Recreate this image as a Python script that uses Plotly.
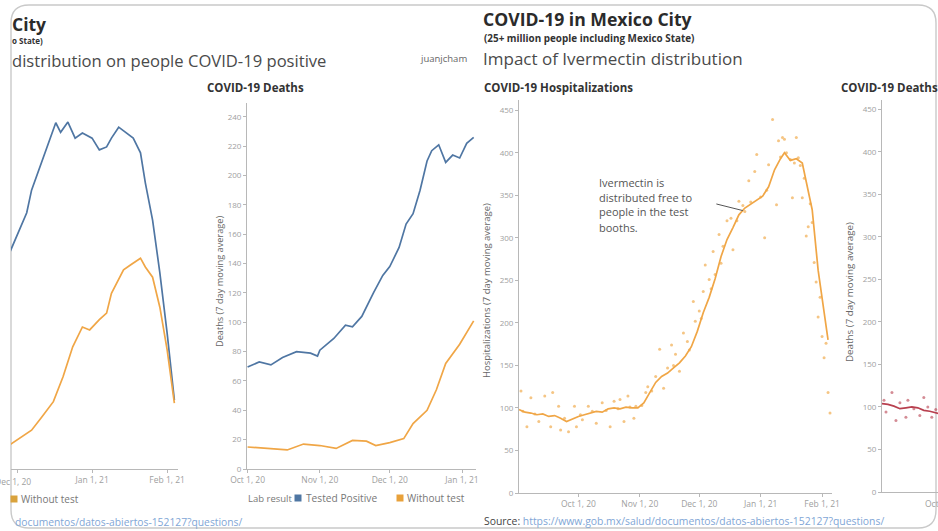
import plotly.graph_objects as go

W, H = 938, 531

# ---------------- DATA ----------------
# Panel A (left dashboard, cut-off hospitalizations chart)
a_pos_dates = ["2020-11-28", "2020-12-02", "2020-12-05", "2020-12-07", "2020-12-11", "2020-12-14",
               "2020-12-17", "2020-12-19", "2020-12-22", "2020-12-25", "2020-12-28", "2021-01-01",
               "2021-01-04", "2021-01-07", "2021-01-09", "2021-01-12", "2021-01-15", "2021-01-18",
               "2021-01-21", "2021-01-23", "2021-01-26", "2021-01-29", "2021-02-01", "2021-02-04"]
a_pos_vals = [296, 326, 350, 381, 418, 447, 473, 460, 474, 452, 459, 452,
              436, 440, 452, 467, 459, 452, 432, 391, 340, 268, 186, 94]
a_wt_dates = ["2020-11-28", "2020-12-03", "2020-12-07", "2020-12-11", "2020-12-16", "2020-12-20",
              "2020-12-24", "2020-12-28", "2020-12-31", "2021-01-04", "2021-01-07", "2021-01-09",
              "2021-01-14", "2021-01-17", "2021-01-21", "2021-01-23", "2021-01-26", "2021-01-29",
              "2021-02-01", "2021-02-04"]
a_wt_vals = [33, 44, 53, 70, 92, 126, 167, 194, 190, 204, 213, 240,
             272, 279, 288, 276, 262, 221, 163, 90]
a_xticks = ["2020-12-01", "2021-01-01", "2021-02-01"]

# Panel B (COVID-19 Deaths, left dashboard)
b_pos_dates = ["2020-10-01", "2020-10-06", "2020-10-11", "2020-10-16", "2020-10-22", "2020-10-28",
               "2020-10-31", "2020-11-01", "2020-11-07", "2020-11-12", "2020-11-15", "2020-11-19",
               "2020-11-24", "2020-11-28", "2020-12-01", "2020-12-05", "2020-12-08", "2020-12-11",
               "2020-12-14", "2020-12-17", "2020-12-19", "2020-12-22", "2020-12-25", "2020-12-28",
               "2020-12-31", "2021-01-03", "2021-01-06"]
b_pos_vals = [69.5, 73, 71, 76, 80, 79, 77, 81, 89, 98, 97, 104, 120, 132, 138, 151, 167, 174,
              190, 210, 217, 221, 209, 214, 212, 222, 226]
b_wt_dates = ["2020-10-01", "2020-10-11", "2020-10-18", "2020-10-25", "2020-11-01", "2020-11-08",
              "2020-11-15", "2020-11-21", "2020-11-25", "2020-12-01", "2020-12-07", "2020-12-11",
              "2020-12-17", "2020-12-21", "2020-12-25", "2020-12-31", "2021-01-06"]
b_wt_vals = [15, 14, 13, 17, 16, 14, 19.5, 19, 16, 18, 20.7, 31, 40, 54, 72, 85, 101]
b_xticks = ["2020-10-01", "2020-11-01", "2020-12-01", "2021-01-01"]
b_yticks = list(range(0, 241, 20))

# Panel C (COVID-19 Hospitalizations, right dashboard)
c_avg_dates = ["2020-09-01", "2020-09-04", "2020-09-07", "2020-09-10", "2020-09-13", "2020-09-16",
               "2020-09-19", "2020-09-22", "2020-09-25", "2020-09-28", "2020-10-01", "2020-10-04",
               "2020-10-07", "2020-10-10", "2020-10-13", "2020-10-16", "2020-10-19", "2020-10-22",
               "2020-10-25", "2020-10-28", "2020-10-31", "2020-11-03", "2020-11-06", "2020-11-09",
               "2020-11-12", "2020-11-15", "2020-11-18", "2020-11-21", "2020-11-24", "2020-11-27",
               "2020-11-30", "2020-12-03", "2020-12-06", "2020-12-09", "2020-12-12", "2020-12-15",
               "2020-12-18", "2020-12-21", "2020-12-24", "2020-12-27", "2020-12-30", "2021-01-02",
               "2021-01-05", "2021-01-08", "2021-01-11", "2021-01-13", "2021-01-16", "2021-01-19",
               "2021-01-22", "2021-01-24", "2021-01-27", "2021-01-30", "2021-02-02", "2021-02-04"]
c_avg_vals = [98, 95, 94, 92, 93, 90, 91, 88, 84, 87, 90, 92, 94, 96, 95, 99, 100, 99, 101, 100,
              100, 106, 118, 130, 137, 141, 147, 153, 161, 172, 190, 212, 230, 252, 278, 298,
              312, 327, 335, 340, 345, 349, 360, 380, 393, 400, 391, 393, 388, 365, 333, 262,
              215, 180]
c_day_dates = ["2020-09-02", "2020-09-03", "2020-09-05", "2020-09-07", "2020-09-09", "2020-09-11",
               "2020-09-14", "2020-09-17", "2020-09-18", "2020-09-21", "2020-09-22", "2020-09-24",
               "2020-09-26", "2020-09-29", "2020-09-30", "2020-10-02", "2020-10-03", "2020-10-06",
               "2020-10-08", "2020-10-10", "2020-10-13", "2020-10-15", "2020-10-17", "2020-10-19",
               "2020-10-21", "2020-10-22", "2020-10-24", "2020-10-26", "2020-10-27", "2020-10-29",
               "2020-10-30", "2020-11-02", "2020-11-04", "2020-11-05", "2020-11-07", "2020-11-09",
               "2020-11-11", "2020-11-13", "2020-11-15", "2020-11-17", "2020-11-18", "2020-11-19",
               "2020-11-21", "2020-11-23", "2020-11-25", "2020-11-26", "2020-11-28", "2020-11-29",
               "2020-12-01", "2020-12-02", "2020-12-03", "2020-12-04", "2020-12-06", "2020-12-07",
               "2020-12-08", "2020-12-09", "2020-12-11", "2020-12-12", "2020-12-13", "2020-12-15",
               "2020-12-17", "2020-12-18", "2020-12-20", "2020-12-21", "2020-12-23", "2020-12-24",
               "2020-12-26", "2020-12-27", "2020-12-29", "2020-12-30", "2021-01-01", "2021-01-03",
               "2021-01-04", "2021-01-05", "2021-01-07", "2021-01-09", "2021-01-10", "2021-01-11",
               "2021-01-12", "2021-01-13", "2021-01-14", "2021-01-16", "2021-01-17", "2021-01-18",
               "2021-01-19", "2021-01-20", "2021-01-21", "2021-01-22", "2021-01-23", "2021-01-24",
               "2021-01-25", "2021-01-26", "2021-01-27", "2021-01-28", "2021-01-29", "2021-01-30",
               "2021-01-31", "2021-02-01", "2021-02-02", "2021-02-03", "2021-02-04", "2021-02-05"]
c_day_vals = [120, 96, 78, 112, 93, 84, 114, 78, 118, 102, 74, 88, 72, 102, 78, 92, 86, 102,
              96, 82, 106, 97, 78, 108, 99, 110, 84, 114, 101, 88, 102, 103, 118, 125, 120, 137,
              169, 123, 147, 174, 150, 163, 143, 188, 178, 168, 225, 202, 214, 205, 237, 268,
              251, 240, 284, 257, 304, 270, 290, 320, 323, 286, 320, 343, 338, 331, 367, 342,
              378, 398, 348, 300, 356, 386, 439, 339, 414, 395, 418, 416, 400, 392, 347, 388,
              418, 394, 385, 347, 370, 302, 313, 340, 318, 271, 248, 207, 230, 184, 159, 176,
              118, 94]
c_xticks = ["2020-10-01", "2020-11-01", "2020-12-01", "2021-01-01", "2021-02-01"]
c_yticks = list(range(0, 451, 50))

# Panel D (COVID-19 Deaths, right dashboard, cut-off)
d_avg_dates = ["2020-09-01", "2020-09-04", "2020-09-07", "2020-09-10", "2020-09-13", "2020-09-16",
               "2020-09-19", "2020-09-22", "2020-09-25", "2020-09-28", "2020-09-30"]
d_avg_vals = [104, 103, 101, 98, 99, 100, 99, 96, 95, 93, 92]
d_day_dates = ["2020-09-02", "2020-09-03", "2020-09-06", "2020-09-08", "2020-09-10", "2020-09-13",
               "2020-09-14", "2020-09-17", "2020-09-20", "2020-09-22", "2020-09-24", "2020-09-26",
               "2020-09-28"]
d_day_vals = [108, 94, 117, 84, 105, 88, 108, 98, 90, 111, 100, 88, 97]
d_yticks = list(range(0, 451, 50))

# ---------------- STYLE ----------------
BLUE = "#4f76a3"
ORANGE = "#f0a646"
ORANGE_DOT = "#f3bb6e"
RED = "#b8404f"
AX = "#b8b8b8"
TICKC = "#a0a0a0"
FONT = "Open Sans"


def X(px):
    return px / W


def Y(py):
    return 1 - py / H


def dom_x(a, b):
    return [X(a), X(b)]


def dom_y(top, bottom):
    return [Y(bottom), Y(top)]


fig = go.Figure()

fig.add_trace(go.Scatter(x=a_pos_dates, y=a_pos_vals, mode="lines", line=dict(color=BLUE, width=1.7),
                         xaxis="x", yaxis="y", showlegend=False))
fig.add_trace(go.Scatter(x=a_wt_dates, y=a_wt_vals, mode="lines", line=dict(color=ORANGE, width=1.7),
                         xaxis="x", yaxis="y", showlegend=False))
fig.add_trace(go.Scatter(x=b_pos_dates, y=b_pos_vals, mode="lines", line=dict(color=BLUE, width=1.7),
                         xaxis="x2", yaxis="y2", showlegend=False))
fig.add_trace(go.Scatter(x=b_wt_dates, y=b_wt_vals, mode="lines", line=dict(color=ORANGE, width=1.7),
                         xaxis="x2", yaxis="y2", showlegend=False))
fig.add_trace(go.Scatter(x=c_day_dates, y=c_day_vals, mode="markers",
                         marker=dict(color=ORANGE_DOT, size=3, opacity=0.85),
                         xaxis="x3", yaxis="y3", showlegend=False))
fig.add_trace(go.Scatter(x=c_avg_dates, y=c_avg_vals, mode="lines", line=dict(color=ORANGE, width=1.7),
                         xaxis="x3", yaxis="y3", showlegend=False))
fig.add_trace(go.Scatter(x=d_day_dates, y=d_day_vals, mode="markers",
                         marker=dict(color=RED, size=3, opacity=0.6),
                         xaxis="x4", yaxis="y4", showlegend=False))
fig.add_trace(go.Scatter(x=d_avg_dates, y=d_avg_vals, mode="lines", line=dict(color=RED, width=1.7),
                         xaxis="x4", yaxis="y4", showlegend=False))

base_x = dict(type="date", showline=True, linecolor=AX, linewidth=1, ticks="outside", ticklen=3,
              tickcolor=AX, tickfont=dict(family=FONT, size=8.5, color=TICKC), showgrid=False,
              zeroline=False, automargin=False, tickformat="%b %-d, %y")
base_y = dict(showline=True, linecolor=AX, linewidth=1, ticks="outside", ticklen=3, tickcolor=AX,
              tickfont=dict(family=FONT, size=8, color=TICKC), showgrid=False, zeroline=False,
              automargin=False)

fig.update_layout(
    width=W, height=H, margin=dict(l=0, r=0, t=0, b=0), template="none",
    paper_bgcolor="white", plot_bgcolor="rgba(0,0,0,0)",
    xaxis=dict(base_x, domain=dom_x(11, 178), anchor="y", tickvals=a_xticks,
               range=["2020-11-28 12:00", "2021-02-05 12:00"]),
    yaxis=dict(base_y, domain=dom_y(103, 469), anchor="x", range=[0, 500], showline=False,
               showticklabels=False, ticks=""),
    xaxis2=dict(base_x, domain=dom_x(247, 476), anchor="y2", tickvals=b_xticks,
                range=["2020-09-30 18:00", "2021-01-07"]),
    yaxis2=dict(base_y, domain=dom_y(103, 469), anchor="x2", range=[0, 249.5], tickvals=b_yticks),
    xaxis3=dict(base_x, domain=dom_x(519, 832), anchor="y3", tickvals=c_xticks,
                range=["2020-09-01", "2021-02-06"]),
    yaxis3=dict(base_y, domain=dom_y(100, 493), anchor="x3", range=[0, 462], tickvals=c_yticks),
    xaxis4=dict(base_x, domain=dom_x(882, 938), anchor="y4", tickvals=[],
                range=["2020-09-01", "2020-09-29 03:00"]),
    yaxis4=dict(base_y, domain=dom_y(100, 492), anchor="x4", range=[0, 461], tickvals=d_yticks),
    font=dict(family=FONT),
)

ann = []


def txt(x, y, s, size, color="#333", bold=False, xanchor="left", angle=0, family=FONT):
    ann.append(dict(xref="paper", yref="paper", x=X(x), y=Y(y), text=("<b>%s</b>" % s) if bold else s,
                    showarrow=False, xanchor=xanchor, yanchor="middle", textangle=angle,
                    font=dict(family=family, size=size, color=color)))


# left dashboard header
txt(10, 24, "City", 17.5, "#2b2b2b", bold=True)
txt(10, 40, "o State)", 8, "#333", bold=True)
txt(10, 61, "distribution on people COVID-19 positive", 16.6, "#4a4a4a")
txt(418, 58, "juanjcham", 9.5, "#666")
# right dashboard header
txt(481, 19, "COVID-19 in Mexico City", 17.6, "#2b2b2b", bold=True)
txt(482, 38, "(25+ million people including Mexico State)", 9.9, "#333", bold=True)
txt(481, 58, "Impact of Ivermectin distribution", 17, "#4a4a4a")
# chart titles
txt(205, 88, "COVID-19 Deaths", 11.5, "#333", bold=True)
txt(482, 88, "COVID-19 Hospitalizations", 11.5, "#333", bold=True)
txt(839, 88, "COVID-19 Deaths", 11.5, "#333", bold=True)
# axis titles
txt(219, 282, "Deaths (7 day moving average)", 9.2, "#666", xanchor="center", angle=-90)
txt(486, 290, "Hospitalizations (7 day moving average)", 9.5, "#666", xanchor="center", angle=-90)
txt(849, 292, "Deaths (7 day moving average)", 9.8, "#666", xanchor="center", angle=-90)
# partially visible tick labels of the cut-off panels
txt(942, 503, "Oct 1, 20", 8.5, TICKC, xanchor="center")
txt(33, 481, "Dec 1, 20", 8.5, TICKC, xanchor="right")
# annotation text
for i, line in enumerate(["Ivermectin is", "distributed free to", "people in the test", "booths."]):
    txt(597, 182 + i * 15, line, 11, "#555")
# legends
txt(19, 499, "Without test", 10, "#777")
txt(246, 498, "Lab result", 9.5, "#777")
txt(304, 498, "Tested Positive", 10.2, "#777")
txt(405, 498, "Without test", 10, "#777")
# sources
txt(13, 522, "documentos/datos-abiertos-152127?questions/", 10.3, "#7fa6d6")
ann.append(dict(xref="paper", yref="paper", x=X(482), y=Y(521), showarrow=False, xanchor="left",
                yanchor="middle",
                text="<span style='color:#444'>Source:</span> https://www.gob.mx/salud/documentos/datos-abiertos-152127?questions/",
                font=dict(family=FONT, size=10.4, color="#7fa6d6")))
# arrow of the annotation (points at the hospitalization line)
ann.append(dict(xref="x3", yref="y3", x="2020-12-23", y=332, ax=-28, ay=-7, text="", showarrow=True,
                arrowhead=0, arrowwidth=1, arrowcolor="#555", standoff=0))

fig.update_layout(annotations=ann)

# frame and legend squares
x0, x1, y0, y1, r = 11, 936, 5, 528, 18
path = (f"M {X(x0+r)},{Y(y0)} L {X(x1-r)},{Y(y0)} Q {X(x1)},{Y(y0)} {X(x1)},{Y(y0+r)} "
        f"L {X(x1)},{Y(y1-r)} Q {X(x1)},{Y(y1)} {X(x1-r)},{Y(y1)} "
        f"L {X(x0+r)},{Y(y1)} Q {X(x0)},{Y(y1)} {X(x0)},{Y(y1-r)} "
        f"L {X(x0)},{Y(y0+r)} Q {X(x0)},{Y(y0)} {X(x0+r)},{Y(y0)} Z")
shapes = [dict(type="path", xref="paper", yref="paper", path=path, line=dict(color="#c9c9c9", width=1.4),
               layer="below")]


def square(xc, yc, color):
    shapes.append(dict(type="rect", xref="paper", yref="paper", x0=X(xc - 3.5), x1=X(xc + 3.5),
                       y0=Y(yc + 3.5), y1=Y(yc - 3.5), fillcolor=color, line=dict(width=0)))


square(14, 499, "#d9a23c")
square(298, 498, BLUE)
square(400, 498, "#e8a13a")
fig.update_layout(shapes=shapes)

fig.write_html("out.html", config={"displayModeBar": False},
               post_script="document.body.style.margin='0px';")
